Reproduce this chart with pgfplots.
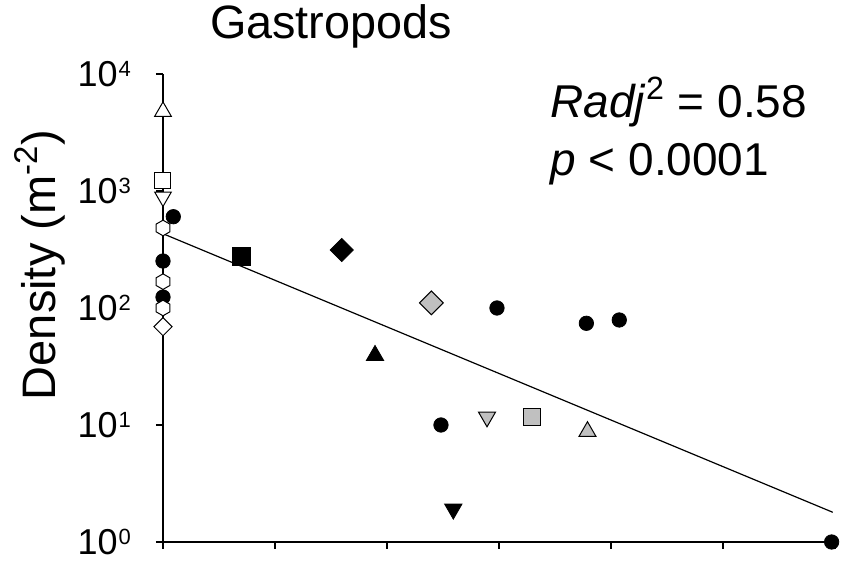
\documentclass[border=0pt]{standalone}
\usepackage{fontspec}
\setmainfont{Liberation Sans}
\usepackage{pgfplots}
\pgfplotsset{compat=1.18}

% open hexagon, pointed top and bottom
\pgfdeclareplotmark{hexagon}{%
  \pgfpathmoveto{\pgfqpointpolar{90}{\pgfplotmarksize}}%
  \pgfpathlineto{\pgfqpointpolar{30}{\pgfplotmarksize}}%
  \pgfpathlineto{\pgfqpointpolar{-30}{\pgfplotmarksize}}%
  \pgfpathlineto{\pgfqpointpolar{-90}{\pgfplotmarksize}}%
  \pgfpathlineto{\pgfqpointpolar{-150}{\pgfplotmarksize}}%
  \pgfpathlineto{\pgfqpointpolar{150}{\pgfplotmarksize}}%
  \pgfpathclose
  \pgfusepathqfillstroke
}

\definecolor{markgray}{RGB}{192,192,192}
\newcommand{\tenpow}[1]{10\kern0.5pt\raisebox{5pt}{\fontsize{11}{11}\selectfont #1}}

\begin{document}
\begin{tikzpicture}
\begin{axis}[
    at={(0,0)}, anchor=south west,
    scale only axis, width=336pt, height=234pt,
    xmin=0, xmax=6, ymin=1, ymax=10000,
    ymode=log, log basis y=10,
    axis lines=left, axis line style={-, line width=0.6pt},
    xtick={0,...,6}, xticklabels={},
    ytick={1,10,100,1000,10000},
    yticklabels={\tenpow{0},\tenpow{1},\tenpow{2},\tenpow{3},\tenpow{4}},
    xminorticks=false, yminorticks=false,
    tick align=outside, major tick length=3.5pt,
    tick style={line width=0.6pt, black},
    yticklabel style={font=\fontsize{18}{20}\selectfont, anchor=east, xshift=-9pt},
    ylabel={Density (m\textsuperscript{-2})},
    ylabel style={font=\fontsize{23.5}{28}\selectfont, at={(axis description cs:-0.183,0.592)}, anchor=center},
    clip=false,
]
% regression line
\addplot[black, line width=0.6pt, no marks] coordinates {(0,431.5) (5.98,1.795)};

% filled circles
\addplot[only marks, mark=*, mark size=3.6pt, mark options={draw=black, fill=black}] coordinates {
  (0.092,603) (0,252) (0,124) (2.982,100) (3.78,74) (4.074,79) (2.482,10) (5.97,1.0)
};
% open hexagons
\addplot[only marks, mark=hexagon, mark size=3.9pt, mark options={draw=black, fill=white, line width=0.5pt}] coordinates {
  (0,483) (0,168) (0,100)
};
% open triangle up
\addplot[only marks, mark=triangle*, mark size=4.8pt, mark options={draw=black, fill=white, line width=0.5pt}] coordinates {(0,4780)};
% open square
\addplot[only marks, mark=square*, mark size=4pt, mark options={draw=black, fill=white, line width=0.5pt}] coordinates {(0,1225)};
% open triangle down
\addplot[only marks, mark=triangle*, mark size=4.8pt, mark options={draw=black, fill=white, line width=0.5pt, rotate=180}] coordinates {(0,891)};
% open diamond
\addplot[only marks, mark=square*, mark size=3.2pt, mark options={draw=black, fill=white, line width=0.5pt, rotate=45}] coordinates {(0,69.2)};

% filled square, diamond, triangles
\addplot[only marks, mark=square*, mark size=4.5pt, mark options={draw=black, fill=black}] coordinates {(0.696,278)};
\addplot[only marks, mark=square*, mark size=4.1pt, mark options={draw=black, fill=black, rotate=45}] coordinates {(1.596,313)};
\addplot[only marks, mark=triangle*, mark size=5pt, mark options={draw=black, fill=black}] coordinates {(1.893,39.3)};
\addplot[only marks, mark=triangle*, mark size=5pt, mark options={draw=black, fill=black, rotate=180}] coordinates {(2.592,1.91)};

% gray markers
\addplot[only marks, mark=square*, mark size=4.2pt, mark options={draw=black, fill=markgray, line width=0.5pt, rotate=45}] coordinates {(2.396,110.7)};
\addplot[only marks, mark=triangle*, mark size=4.9pt, mark options={draw=black, fill=markgray, line width=0.5pt, rotate=180}] coordinates {(2.893,11.7)};
\addplot[only marks, mark=square*, mark size=4.3pt, mark options={draw=black, fill=markgray, line width=0.5pt}] coordinates {(3.295,11.7)};
\addplot[only marks, mark=triangle*, mark size=4.9pt, mark options={draw=black, fill=markgray, line width=0.5pt}] coordinates {(3.79,8.8)};

\node[anchor=base, font=\fontsize{23.4}{28}\selectfont] at (axis description cs:0.25,1.0748) {Gastropods};
\node[anchor=base west, inner sep=0pt, font=\fontsize{23}{28}\selectfont] at (axis description cs:0.576,0.906) {\textit{Radj}\textsuperscript{2} = 0.58};
\node[anchor=base west, inner sep=0pt, font=\fontsize{23}{28}\selectfont] at (axis description cs:0.576,0.784) {\textit{p} < 0.0001};
\end{axis}
\pgfresetboundingbox
\path[use as bounding box] (-81.5pt,-9.5pt) rectangle (339pt,271pt);
\end{tikzpicture}
\end{document}
